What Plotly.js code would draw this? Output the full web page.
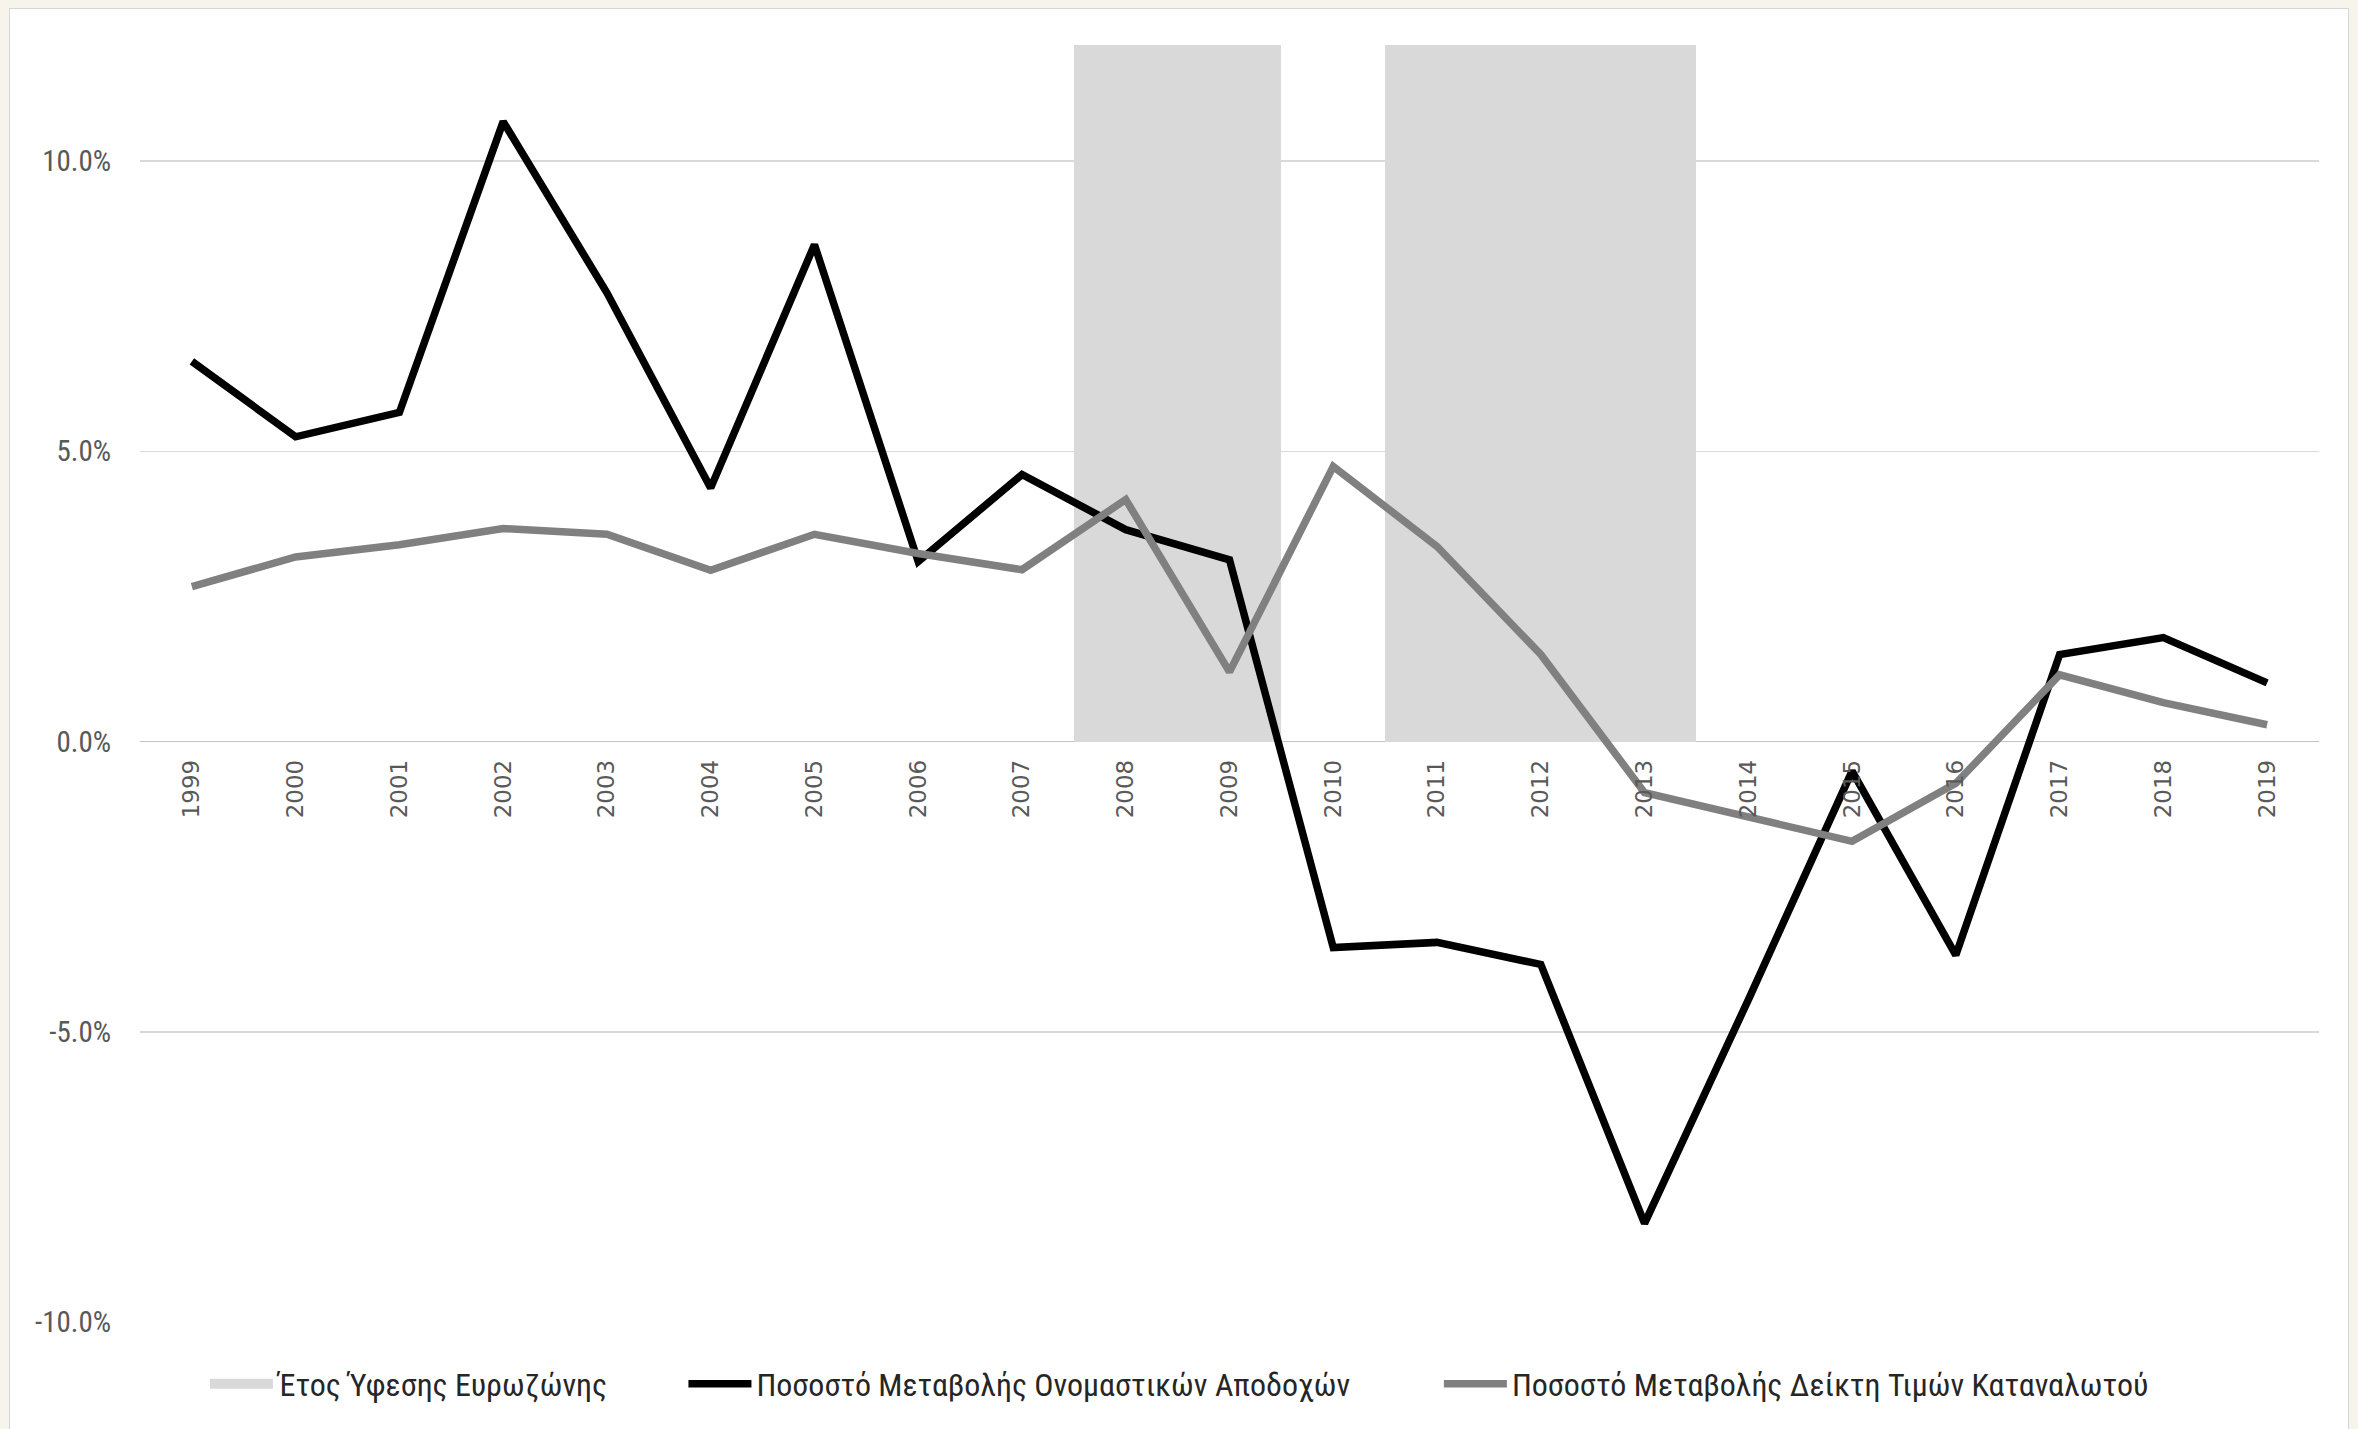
<!DOCTYPE html>
<html>
<head>
<meta charset="utf-8">
<script src="https://cdn.plot.ly/plotly-3.0.1.min.js"></script>
<style>
  html, body { margin: 0; padding: 0; background: #F7F4EC; }
  #frame { position: absolute; left: 10px; top: 9px; width: 2338px; height: 1420px; background: #ffffff; outline: 1px solid #D6D6D6; }
  #chart { width: 2338px; height: 1420px; }
</style>
</head>
<body>
<div id="frame"><div id="chart"></div></div>
<script>
// ---- data ----
const years = ['1999','2000','2001','2002','2003','2004','2005','2006','2007','2008','2009','2010',
               '2011','2012','2013','2014','2015','2016','2017','2018','2019'];
// Ποσοστό Μεταβολής Ονομαστικών Αποδοχών (%)
const wageChange = [6.55, 5.25, 5.67, 10.68, 7.73, 4.37, 8.56, 3.10, 4.60, 3.65, 3.13, -3.55,
                    -3.46, -3.84, -8.30, -4.45, -0.51, -3.68, 1.50, 1.79, 1.01];
// Ποσοστό Μεταβολής Δείκτη Τιμών Καταναλωτού (%)
const cpiChange = [2.67, 3.18, 3.39, 3.67, 3.57, 2.95, 3.57, 3.24, 2.96, 4.17, 1.20, 4.74,
                   3.36, 1.50, -0.88, -1.29, -1.72, -0.72, 1.15, 0.67, 0.29];
// Έτος Ύφεσης Ευρωζώνης (shaded column height, %)
const recessionBar = [null, null, null, null, null, null, null, null, null, 12, 12, null,
                      12, 12, 12, null, null, null, null, null, null];
const yTicks = [-10, -5, 0, 5, 10];
const yRange = [-10, 12];

const names = {
  recession: 'Έτος Ύφεσης Ευρωζώνης',
  wage: 'Ποσοστό Μεταβολής Ονομαστικών Αποδοχών',
  cpi: 'Ποσοστό Μεταβολής Δείκτη Τιμών Καταναλωτού'
};

const narrow = '"Liberation Sans Narrow", "Arial Narrow", "Roboto Condensed", "Liberation Sans", sans-serif';

const traces = [
  {
    type: 'bar', x: years, y: recessionBar, name: names.recession,
    marker: { color: '#D9D9D9', line: { width: 0 } }, width: 1,
    showlegend: false, legendgroup: 'rec', hoverinfo: 'x'
  },
  {
    type: 'scatter', mode: 'lines', x: [years[0]], y: [null], name: names.recession,
    line: { color: '#D9D9D9', width: 21 }, legend: 'legend', legendgroup: 'rec',
    showlegend: true, hoverinfo: 'skip'
  },
  {
    type: 'scatter', mode: 'lines', x: years, y: wageChange, name: names.wage,
    line: { color: '#000000', width: 7.5 }, legend: 'legend2'
  },
  {
    type: 'scatter', mode: 'lines', x: years, y: cpiChange, name: names.cpi,
    line: { color: '#808080', width: 7.5 }, legend: 'legend3'
  }
];

const zeroPos = (0 - yRange[0]) / (yRange[1] - yRange[0]);
const legendBase = { orientation: 'h', xanchor: 'left', yanchor: 'middle', y: -0.0486,
  bgcolor: 'rgba(0,0,0,0)', itemwidth: 63,
  font: { family: narrow, size: 32, color: '#262626' } };

const layout = {
  width: 2338, height: 1420,
  margin: { l: 130, r: 29, t: 36, b: 107 },
  paper_bgcolor: '#ffffff', plot_bgcolor: '#ffffff',
  barmode: 'overlay', bargap: 0,
  xaxis: {
    type: 'category', range: [-0.5, years.length - 0.5],
    anchor: 'free', position: zeroPos,
    showgrid: false, showline: false, zeroline: false,
    tickangle: -90, ticks: 'outside', ticklen: 8, tickcolor: 'rgba(0,0,0,0)',
    tickfont: { family: '"DejaVu Sans", sans-serif', size: 23, color: '#595959' },
    fixedrange: true
  },
  yaxis: {
    range: yRange, tickvals: yTicks, ticktext: yTicks.map(v => v.toFixed(1) + '%'),
    showgrid: true, gridcolor: '#D9D9D9', gridwidth: 1.5,
    zeroline: true, zerolinecolor: '#C4C4C4', zerolinewidth: 1.5,
    showline: false, ticks: 'outside', ticklen: 22, tickcolor: 'rgba(0,0,0,0)',
    tickfont: { family: narrow, size: 29, color: '#595959' },
    fixedrange: true
  },
  legend: Object.assign({}, legendBase, { x: 0.0298 }),
  legend2: Object.assign({}, legendBase, { x: 0.2494 }),
  legend3: Object.assign({}, legendBase, { x: 0.5961 }),
  showlegend: true
};

Plotly.newPlot('chart', traces, layout, { displayModeBar: false, staticPlot: true });
</script>
</body>
</html>
